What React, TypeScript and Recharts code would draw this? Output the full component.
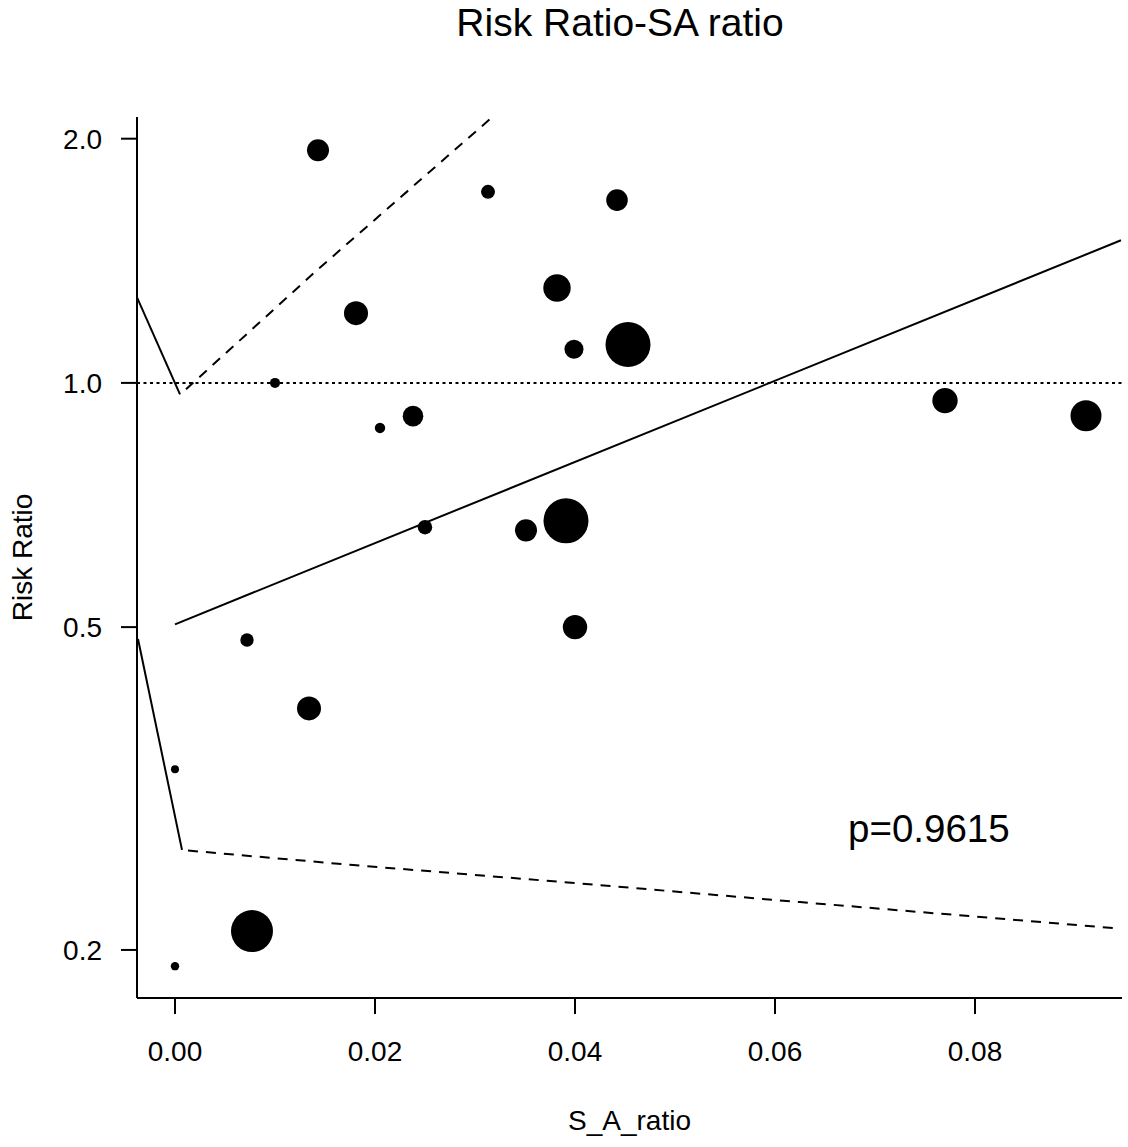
import React from "react";
import {
  ScatterChart,
  Scatter,
  XAxis,
  YAxis,
  ReferenceLine,
} from "recharts";

// study points: S_A_ratio, risk ratio, weight (%)
const saRatio = [
  0.0143, 0.0313, 0.0442, 0.0382, 0.0181, 0.0399, 0.0453, 0.01, 0.0238, 0.0205,
  0.077, 0.0911, 0.025, 0.0351, 0.0391, 0.04, 0.0072, 0.0134, 0.0, 0.0077, 0.0,
];
const riskRatio = [
  1.935, 1.72, 1.68, 1.309, 1.219, 1.1, 1.115, 1.0, 0.91, 0.88, 0.951, 0.911,
  0.664, 0.658, 0.676, 0.5, 0.482, 0.397, 0.334, 0.211, 0.191,
];
const weights = [
  3.71, 1.5, 3.57, 5.75, 4.41, 2.76, 15.5, 0.77, 3.25, 0.83, 4.93, 7.35, 1.59,
  3.71, 15.5, 4.56, 1.38, 4.41, 0.49, 13.51, 0.54,
];

// fitted meta-regression line and confidence band pieces
const fitX = [0.0, 0.0946];
const fitY = [0.504, 1.499];
const upperSolidX = [-0.0038, 0.0005];
const upperSolidY = [1.275, 0.968];
const upperDashX = [0.0011, 0.0142, 0.0317];
const upperDashY = [0.982, 1.377, 2.125];
const lowerSolidX = [-0.0037, 0.0007];
const lowerSolidY = [0.4835, 0.2657];
const lowerDashX = [0.0013, 0.0175, 0.04, 0.0625, 0.0945];
const lowerDashY = [0.2652, 0.2547, 0.2418, 0.2291, 0.2125];

const xTicks = [0, 0.02, 0.04, 0.06, 0.08];
const yTicks = [0.2, 0.5, 1, 2];

const pLabel = "p=0.9615";

const zip = (xs: number[], ys: number[]) => xs.map((x, i) => ({ x, y: ys[i] }));

const points = saRatio.map((x, i) => ({ x, y: riskRatio[i], w: weights[i] }));
const maxW = Math.max(...weights);

const FONT = "'Liberation Sans', Arial, Helvetica, sans-serif";

// bubble area proportional to weight
function Bubble(props: any) {
  const { cx, cy, payload } = props;
  if (cx == null || cy == null) return <g />;
  const r = 22.5 * Math.sqrt(payload.w / maxW);
  return <circle cx={cx} cy={cy} r={r} fill="#000" />;
}

const noDot = () => <g />;

export default function App() {
  const lineStyle = { stroke: "#000", strokeWidth: 2 };
  const dashStyle = { stroke: "#000", strokeWidth: 2, strokeDasharray: "10 8" };
  return (
    <div
      style={{
        position: "absolute",
        left: 0,
        top: 0,
        width: 1128,
        height: 1147,
        background: "#fff",
        fontFamily: FONT,
      }}
    >
      <ScatterChart
        width={1128}
        height={1147}
        margin={{ top: 117, right: 6, bottom: 0, left: 0 }}
      >
        <XAxis
          type="number"
          dataKey="x"
          domain={[-0.0038, 0.0947]}
          allowDataOverflow
          ticks={xTicks}
          tickFormatter={(v: number) => v.toFixed(2)}
          height={149}
          tickSize={16}
          tickMargin={27}
          axisLine={{ stroke: "#000", strokeWidth: 2 }}
          tickLine={{ stroke: "#000", strokeWidth: 2 }}
          tick={{ fill: "#000", fontSize: 28, fontFamily: FONT }}
        />
        <YAxis
          type="number"
          dataKey="y"
          scale="log"
          domain={[0.1745, 2.127]}
          allowDataOverflow
          ticks={yTicks}
          tickFormatter={(v: number) => v.toFixed(1)}
          width={137}
          tickSize={16}
          tickMargin={19}
          axisLine={{ stroke: "#000", strokeWidth: 2 }}
          tickLine={{ stroke: "#000", strokeWidth: 2 }}
          tick={{ fill: "#000", fontSize: 28, fontFamily: FONT }}
        />
        <ReferenceLine
          y={1}
          stroke="#000"
          strokeWidth={2}
          strokeDasharray="3 3.5"
        />
        <Scatter data={zip(fitX, fitY)} line={lineStyle} shape={noDot} isAnimationActive={false} />
        <Scatter data={zip(upperSolidX, upperSolidY)} line={lineStyle} shape={noDot} isAnimationActive={false} />
        <Scatter data={zip(upperDashX, upperDashY)} line={dashStyle} shape={noDot} isAnimationActive={false} />
        <Scatter data={zip(lowerSolidX, lowerSolidY)} line={lineStyle} shape={noDot} isAnimationActive={false} />
        <Scatter data={zip(lowerDashX, lowerDashY)} line={dashStyle} shape={noDot} isAnimationActive={false} />
        <Scatter data={points} shape={Bubble} isAnimationActive={false} />
      </ScatterChart>
      <svg
        width={1128}
        height={1147}
        style={{ position: "absolute", left: 0, top: 0, pointerEvents: "none" }}
        fontFamily={FONT}
      >
        <text x={620} y={36} textAnchor="middle" fontSize={39} fill="#000">
          Risk Ratio-SA ratio
        </text>
        <text x={848} y={842} fontSize={38.5} fill="#000">
          {pLabel}
        </text>
        <text x={629.5} y={1130} textAnchor="middle" fontSize={28} fill="#000">
          S_A_ratio
        </text>
        <text
          x={32}
          y={557.5}
          textAnchor="middle"
          fontSize={28}
          fill="#000"
          transform="rotate(-90 32 557.5)"
        >
          Risk Ratio
        </text>
      </svg>
    </div>
  );
}
